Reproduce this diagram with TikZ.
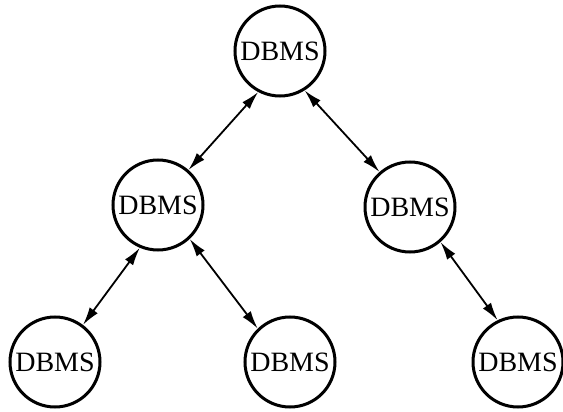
\documentclass[tikz,border=0pt]{standalone}
\usepackage{fontspec}
\setmainfont{Liberation Serif}
\usetikzlibrary{arrows.meta}

\begin{document}
\begin{tikzpicture}[x=1pt, y=-1pt, >={Latex[length=18pt, width=10pt]},
    dbms/.style={circle, draw, line width=3pt, minimum size=90pt, inner sep=0pt,
      font=\fontsize{28}{30}\selectfont},
    link/.style={<->, line width=1.8pt}]
  \useasboundingbox (0,0) rectangle (563,412);
  % Top of the hierarchy
  \node[dbms] (root) at (280, 51) {DBMS};
  % Middle level
  \node[dbms] (midL) at (158,205) {DBMS};
  \node[dbms] (midR) at (410,207) {DBMS};
  % Bottom level
  \node[dbms] (botL) at ( 55,362) {DBMS};
  \node[dbms] (botM) at (290,362) {DBMS};
  \node[dbms] (botR) at (518,362) {DBMS};
  % Links between the levels
  \draw[link] (root.242) -- (midL.49);
  \draw[link] (root.302) -- (midR.131);
  \draw[link] (midL.247) -- (botL.53);
  \draw[link] (midL.313) -- (botM.134);
  \draw[link] (midR.311) -- (botR.116);
\end{tikzpicture}
\end{document}
